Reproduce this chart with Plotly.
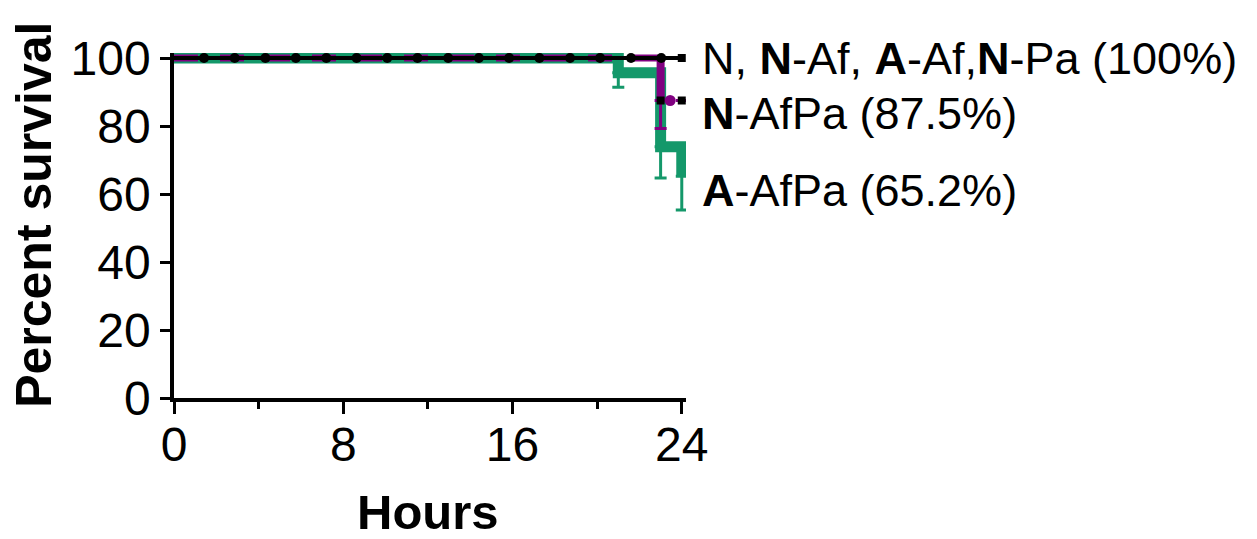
import plotly.graph_objects as go

# ---- data ----
hours_ticks = [0, 8, 16, 24]
minor_hours = [4, 12, 20]
pct_ticks = [0, 20, 40, 60, 80, 100]

# N, N-Af, A-Af, N-Pa group (100 %)
ctrl_time = [0, 24]
ctrl_surv = [100, 100]
ctrl_censor_time = [1.42, 2.87, 4.32, 5.76, 7.2, 8.63, 10.08, 11.51, 12.96,
                    14.41, 15.84, 17.27, 18.72, 20.14, 21.6, 23.03]

# N-AfPa (87.5 %)
nafpa_time = [0, 23, 24]
nafpa_surv = [100, 87.5, 87.5]
nafpa_lower = [100, 79.3, 87.5]
nafpa_censor_time = [23.45]

# A-AfPa (65.2 %)
aafpa_time = [0, 21, 23, 24]
aafpa_surv = [100, 95.65, 73.9, 65.2]
aafpa_lower = [100, 91.4, 64.7, 55.3]

end_time = [24, 23, 24]
end_surv = [100, 87.5, 87.5]

labels = ["N, <b>N</b>-Af, <b>A</b>-Af,<b>N</b>-Pa (100%)",
          "<b>N</b>-AfPa (87.5%)",
          "<b>A</b>-AfPa (65.2%)"]
label_y = [99.8, 83.8, 61.0]

GREEN = "#14986a"
PURPLE = "#800080"
FONT = "Liberation Sans, Arial, sans-serif"

Y_TOP = 345 / 3.4  # y-range top (a little above 100 so the thick lines are not clipped)
X_TOP = 24.2

fig = go.Figure()

# A-AfPa (green, thick)
fig.add_trace(go.Scatter(
    x=aafpa_time, y=aafpa_surv, mode="lines", line=dict(color=GREEN, width=11, shape="hv"),
    error_y=dict(type="data", symmetric=False, array=[0] * len(aafpa_surv),
                 arrayminus=[s - l for s, l in zip(aafpa_surv, aafpa_lower)],
                 color=GREEN, thickness=3, width=6),
    cliponaxis=False, showlegend=False, hoverinfo="skip"))

# N-AfPa (purple, dashed)
fig.add_trace(go.Scatter(
    x=nafpa_time, y=nafpa_surv, mode="lines", line=dict(color=PURPLE, width=7, shape="hv", dash="24px,22px"),
    error_y=dict(type="data", symmetric=False, array=[0] * len(nafpa_surv),
                 arrayminus=[s - l for s, l in zip(nafpa_surv, nafpa_lower)],
                 color=PURPLE, thickness=3, width=6),
    cliponaxis=False, showlegend=False, hoverinfo="skip"))

# purple vertical drop emphasised
fig.add_trace(go.Scatter(
    x=[nafpa_time[1], nafpa_time[1]], y=[nafpa_surv[0], nafpa_surv[1]], mode="lines",
    line=dict(color=PURPLE, width=8), cliponaxis=False, showlegend=False, hoverinfo="skip"))

# control group line (black)
fig.add_trace(go.Scatter(
    x=ctrl_time, y=ctrl_surv, mode="lines", line=dict(color="black", width=4),
    cliponaxis=False, showlegend=False, hoverinfo="skip"))
fig.add_trace(go.Scatter(
    x=ctrl_censor_time, y=[ctrl_surv[0]] * len(ctrl_censor_time), mode="markers",
    marker=dict(color="black", size=10, symbol="circle"),
    cliponaxis=False, showlegend=False, hoverinfo="skip"))

# N-AfPa censor mark
fig.add_trace(go.Scatter(
    x=nafpa_censor_time, y=[nafpa_surv[-1]] * len(nafpa_censor_time), mode="markers",
    marker=dict(color=PURPLE, size=11, symbol="circle"),
    cliponaxis=False, showlegend=False, hoverinfo="skip"))

# end marks
fig.add_trace(go.Scatter(
    x=end_time, y=end_surv, mode="markers",
    marker=dict(color="black", size=8, symbol="square"),
    cliponaxis=False, showlegend=False, hoverinfo="skip"))

for txt, yv in zip(labels, label_y):
    fig.add_annotation(x=24.85 / X_TOP, y=yv / Y_TOP, xref="paper", yref="paper", text=txt,
                       showarrow=False, xanchor="left", yanchor="middle",
                       font=dict(family=FONT, size=45, color="black"))

fig.add_annotation(x=0.496, y=-0.330, xref="paper", yref="paper", text="<b>Hours</b>",
                   showarrow=False, xanchor="center", yanchor="middle",
                   font=dict(family=FONT, size=49, color="black"))
fig.add_annotation(x=-0.274, y=0.53, xref="paper", yref="paper", text="<b>Percent survival</b>",
                   showarrow=False, xanchor="center", yanchor="middle", textangle=-90,
                   font=dict(family=FONT, size=50, color="black"))

fig.update_layout(
    width=1257, height=539,
    margin=dict(l=174, r=571, t=53, b=141, pad=0),
    paper_bgcolor="white", plot_bgcolor="white",
    showlegend=False,
    xaxis=dict(range=[0, X_TOP], tickmode="array", tickvals=hours_ticks,
               ticktext=[str(v) for v in hours_ticks],
               showline=True, linecolor="black", linewidth=3.5,
               ticks="outside", ticklen=12, tickwidth=3, tickcolor="black",
               ticklabelstandoff=-10,
               minor=dict(tickmode="array", tickvals=minor_hours, ticks="outside",
                          ticklen=7, tickwidth=3, tickcolor="black"),
               showgrid=False, zeroline=False,
               tickfont=dict(family=FONT, size=48, color="black")),
    yaxis=dict(range=[0, Y_TOP], tickmode="array", tickvals=pct_ticks,
               ticktext=[str(v) for v in pct_ticks],
               showline=True, linecolor="black", linewidth=3.5,
               ticks="outside", ticklen=10, tickwidth=3, tickcolor="black",
               showgrid=False, zeroline=False,
               tickfont=dict(family=FONT, size=48, color="black")),
)

fig.write_html("out.html", config={"displayModeBar": False},
               post_script="document.body.style.margin='0';document.body.style.overflow='hidden';")
